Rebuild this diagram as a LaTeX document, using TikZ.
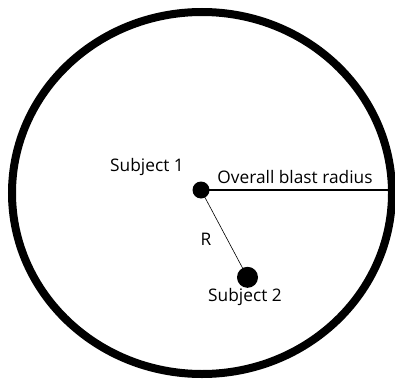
\documentclass[tikz,border=0pt]{standalone}
\usepackage{fontspec}
\setmainfont{Open Sans}
\begin{document}
\begin{tikzpicture}[x=1pt,y=1pt,line width=.45pt,
  dot/.style={circle,fill=black,inner sep=0pt},
  lab/.style={font=\fontsize{17.3}{19}\selectfont,inner sep=0pt}]
\useasboundingbox (0,0) rectangle (395,378);
\coordinate (o) at (202,185); \coordinate (rim) at (392,188);
\draw[line width=8pt] (o) ellipse (190 and 181);
\node[dot,minimum size=17pt] (s1) at (201,188) {};
\node[dot,minimum size=21pt] (s2) at (247.5,100.7) {};
\draw[line width=2pt] (s1.center)--(rim);
\draw[line width=.6pt] (s1.center)--(s2.center);
\node[lab] (l1) at (147,211) {Subject 1}; \node[lab] (l2) at (245,81) {Subject 2};
\node[lab] (lr) at (295,201) {Overall blast radius}; \node[lab] (lR) at (206,139) {R};
\end{tikzpicture}
\end{document}
